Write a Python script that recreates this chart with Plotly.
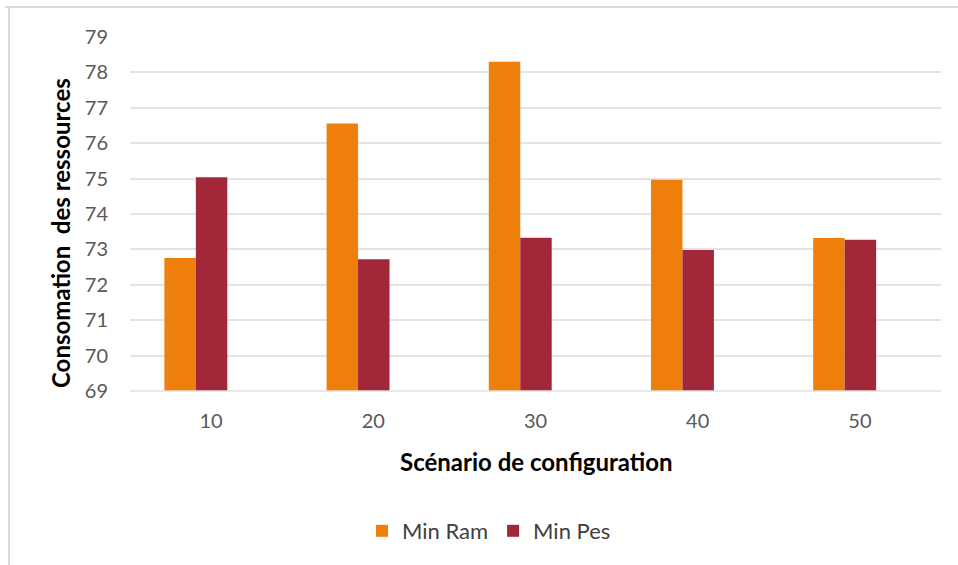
import plotly.graph_objects as go

# Scenario labels and resource consumption per strategy
scenarios = ["10", "20", "30", "40", "50"]
min_ram = [72.76, 76.56, 78.30, 74.97, 73.32]
min_pes = [75.04, 72.72, 73.33, 72.98, 73.27]
y_ticks = list(range(69, 80))

ORANGE = "#EF7F0B"
DARK_RED = "#A22839"
FONT = "Lato"

# bar width and left offsets (category units); the groups sit left of the
# category centre, as in a three-slot cluster with an empty third slot
BAR_W = 0.194
fig = go.Figure()
fig.add_trace(go.Bar(x=scenarios, y=min_ram, name="Min Ram",
                     width=BAR_W, offset=-0.288,
                     marker=dict(color=ORANGE, line=dict(width=0))))
fig.add_trace(go.Bar(x=scenarios, y=min_pes, name="Min Pes",
                     width=BAR_W, offset=-0.288 + BAR_W,
                     marker=dict(color=DARK_RED, line=dict(width=0))))

W, H = 958, 565
L, R, T, B = 130, 17, 37, 174
pw, ph = W - L - R, H - T - B

fig.update_layout(
    width=W, height=H,
    margin=dict(l=L, r=R, t=T, b=B, autoexpand=False),
    paper_bgcolor="white", plot_bgcolor="white",
    barmode="overlay",
    font=dict(family=FONT, size=20, color="#595959"),
    showlegend=True,
    legend=dict(orientation="h", x=(489 - L) / pw, xanchor="center",
                y=-(531 - (T + ph)) / ph, yanchor="middle",
                font=dict(family=FONT, size=22, color="#404040"),
                itemwidth=30, traceorder="normal"),
    xaxis=dict(type="category", showgrid=False, showline=False, ticks="",
               tickfont=dict(family=FONT, size=20, color="#595959"),
               ticklabelstandoff=16),
    yaxis=dict(range=[69, 79], tickvals=y_ticks, showgrid=True,
               gridcolor="#E4E4E4", gridwidth=1.5, zeroline=False,
               showline=False, ticks="",
               tickfont=dict(family=FONT, size=20, color="#595959"),
               ticklabelstandoff=21),
    annotations=[
        dict(text="<b>Scénario de configuration</b>", xref="paper", yref="paper",
             x=(536 - L) / pw, y=-(461 - (T + ph)) / ph, showarrow=False,
             xanchor="center", yanchor="middle",
             font=dict(family=FONT, size=24, color="#000000")),
        dict(text="<b>Consomation  des ressources</b>", xref="paper", yref="paper",
             x=(60 - L) / pw, y=1 - (233 - T) / ph, showarrow=False,
             textangle=-90, xanchor="center", yanchor="middle",
             font=dict(family=FONT, size=24, color="#000000")),
    ],
    shapes=[
        # bottom axis line along the 69 gridline
        dict(type="line", xref="paper", yref="paper", x0=0, x1=1, y0=0, y1=0,
             line=dict(color="#E0E0E0", width=1.5)),
        # light frame on the left and top edges of the chart area
        dict(type="line", xref="paper", yref="paper",
             x0=(9 - L) / pw, x1=(9 - L) / pw, y0=1 + (T - 7) / ph, y1=-(H - T - ph) / ph,
             line=dict(color="#D9D9D9", width=2)),
        dict(type="line", xref="paper", yref="paper",
             x0=(5 - L) / pw, x1=1 + R / pw, y0=1 + (T - 7) / ph, y1=1 + (T - 7) / ph,
             line=dict(color="#D9D9D9", width=2)),
    ],
)

fig.write_html("out.html")
